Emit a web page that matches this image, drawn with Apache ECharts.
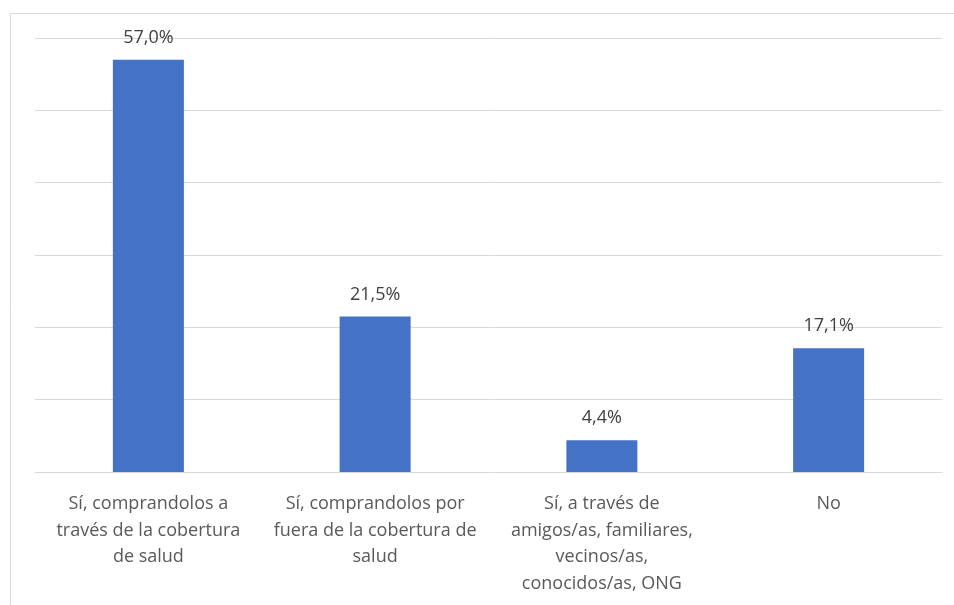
<!DOCTYPE html>
<html>
<head>
<meta charset="utf-8">
<script src="https://cdn.jsdelivr.net/npm/echarts@6/dist/echarts.min.js"></script>
<style>
  html, body { margin: 0; padding: 0; background: #ffffff; }
  #chart { width: 954px; height: 605px; }
</style>
</head>
<body>
<div id="chart"></div>
<script>
// Answer categories (line breaks as laid out under each bar)
const categories = [
  'Sí, comprandolos a\ntravés de la cobertura\nde salud',
  'Sí, comprandolos por\nfuera de la cobertura de\nsalud',
  'Sí, a través de\namigos/as, familiares,\nvecinos/as,\nconocidos/as, ONG',
  'No'
];
// Share of respondents, in percent
const values = [57.0, 21.5, 4.4, 17.1];

const axisMin = 0;
const axisMax = 60;
const axisStep = 10;

const chart = echarts.init(document.getElementById('chart'), null, { renderer: 'canvas' });

chart.setOption({
  animation: false,
  backgroundColor: '#ffffff',
  graphic: [{
    type: 'rect',
    shape: { x: 10.5, y: 13.5, width: 1000, height: 700 },
    style: { fill: 'none', stroke: '#d9d9d9', lineWidth: 1 },
    silent: true
  }],
  grid: { left: 35, right: 12, top: 38, bottom: 133 },
  xAxis: {
    type: 'category',
    data: categories,
    axisTick: { show: false },
    axisLine: { show: true, lineStyle: { color: '#d9d9d9', width: 1 } },
    axisLabel: {
      interval: 0,
      margin: 19,
      color: '#595959',
      fontFamily: 'Open Sans',
      fontSize: 18,
      lineHeight: 26.5,
      align: 'center'
    }
  },
  yAxis: {
    type: 'value',
    min: axisMin,
    max: axisMax,
    interval: axisStep,
    axisLabel: { show: false },
    axisLine: { show: false },
    axisTick: { show: false },
    splitLine: { show: true, lineStyle: { color: '#d9d9d9', width: 1 } }
  },
  series: [{
    type: 'bar',
    data: values,
    barWidth: 71,
    itemStyle: { color: '#4472c4' },
    label: {
      show: true,
      position: 'top',
      distance: 13,
      color: '#404040',
      fontFamily: 'Open Sans',
      fontSize: 18,
      formatter: p => p.value.toFixed(1).replace('.', ',') + '%'
    }
  }]
});
</script>
</body>
</html>
